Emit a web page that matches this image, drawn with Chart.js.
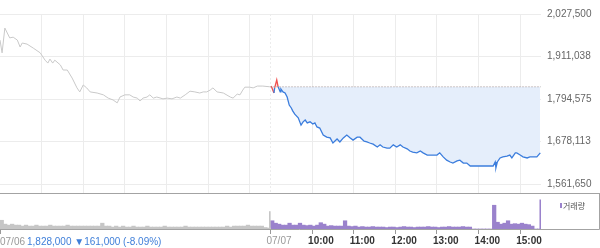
<!DOCTYPE html>
<html lang="ko">
  <head>
    <meta charset="UTF-8" />
    <script src="https://cdn.jsdelivr.net/npm/chart.js@4.4.0/dist/chart.umd.min.js"></script>
    <title>07/07 차트</title>
    <style>
      body { margin: 0; background: #fff; }
      canvas { display: block; }
    </style>
  </head>
  <body>
    <canvas id="price" width="600" height="194"></canvas>
    <canvas id="volume" width="600" height="54"></canvas>
    <script>
      // minutes since 09:00 of each session; one session = 390 min
      const SESSION = 390;
      const BASE = 1828000; // 07/06 close
      const yTicks = [1561650, 1678113, 1794575, 1911038, 2027500];
      const gridTimes = [60, 120, 180, 240, 300, 360, 390, 450, 510, 570, 630, 690, 750];
      const labelTimes = [0, 390, 450, 510, 570, 630, 690, 750];
      const labelTexts = ["", "07/07", "10:00", "11:00", "12:00", "13:00", "14:00", "15:00"];

      // 07/06 price
      const prevTimes = [0, 3, 7, 14, 19, 25, 29, 32, 39, 48, 58, 65, 69, 72, 76, 79, 87, 91, 97, 104,
        111, 115, 120, 125, 130, 140, 149, 156, 163, 169, 173, 180, 187, 192, 198, 202, 206, 212, 216, 221,
        226, 235, 241, 248, 255, 260, 267, 274, 281, 288, 293, 298, 303, 307, 313, 322, 332, 336, 342, 346,
        350, 353, 360, 365, 371, 379, 389];
      const prevPrices = [1956000, 1921000, 1989000, 1962000, 1964000, 1956000, 1937000, 1948000, 1945000, 1934000,
        1921000, 1901000, 1893000, 1904000, 1893000, 1901000, 1888000, 1874000, 1874000, 1852000,
        1825000, 1814000, 1833000, 1825000, 1814000, 1811000, 1806000, 1797000, 1792000, 1784000,
        1800000, 1806000, 1806000, 1800000, 1797000, 1789000, 1797000, 1800000, 1806000, 1797000,
        1800000, 1795000, 1797000, 1795000, 1800000, 1797000, 1806000, 1816000, 1814000, 1811000,
        1814000, 1814000, 1819000, 1825000, 1814000, 1811000, 1800000, 1797000, 1808000, 1806000,
        1819000, 1827000, 1827000, 1825000, 1830000, 1830000, 1828000];

      // 07/07 price
      const todayTimes = [1, 5, 6, 9, 11, 14, 15, 18, 21, 24, 27, 30, 32, 35, 40, 44, 47, 50, 53, 57,
        61, 64, 67, 71, 76, 81, 86, 90, 96, 100, 105, 110, 115, 119, 125, 129, 135, 139, 143, 148,
        154, 158, 162, 168, 172, 177, 182, 187, 191, 197, 201, 205, 211, 216, 220, 226, 230, 240, 244, 249,
        254, 259, 263, 269, 273, 278, 283, 288, 321, 324, 325, 327, 331, 335, 341, 345, 348, 353, 355, 360,
        364, 370, 374, 384, 389];
      const todayPrices = [1830000, 1811000, 1825000, 1847000, 1828000, 1814000, 1822000, 1814000, 1811000, 1800000,
        1778000, 1770000, 1762000, 1753000, 1743000, 1723000, 1732000, 1737000, 1729000, 1732000,
        1726000, 1729000, 1718000, 1715000, 1696000, 1690000, 1688000, 1674000, 1685000, 1677000,
        1688000, 1696000, 1688000, 1682000, 1690000, 1690000, 1679000, 1677000, 1674000, 1671000,
        1663000, 1669000, 1663000, 1660000, 1660000, 1669000, 1663000, 1669000, 1663000, 1658000,
        1652000, 1649000, 1647000, 1652000, 1647000, 1641000, 1641000, 1641000, 1647000, 1636000,
        1627000, 1622000, 1619000, 1625000, 1627000, 1619000, 1619000, 1611000, 1611000, 1622000,
        1606000, 1622000, 1633000, 1636000, 1638000, 1641000, 1633000, 1647000, 1647000, 1641000,
        1636000, 1633000, 1636000, 1636000, 1647000];

      // volume, 5-minute bins from 09:00
      const BIN = 5;
      const prevVolumes = [9000, 5000, 4000, 5000, 4000, 4000, 3000, 4000, 3000, 3000,
        4000, 3000, 3000, 3000, 4000, 3000, 3000, 3000, 3000, 4000,
        3000, 3000, 3000, 3000, 3000, 3000, 3000, 3000, 3000, 6000,
        3000, 3000, 2000, 3000, 2000, 3000, 2000, 2000, 3000, 2000,
        2000, 2000, 3000, 2000, 2000, 2000, 2000, 3000, 2000, 2000,
        2000, 2000, 2000, 3000, 2000, 2000, 2000, 2000, 2000, 2000,
        2000, 2000, 2000, 2000, 2000, 3000, 2000, 3000, 3000, 3000,
        3000, 4000, 3000, 3000, 3000, 3000, 1500, 1000];
      const prevCloseVolume = 18000;
      const todayVolumes = [8500, 6000, 5000, 4000, 4000, 6000, 4000, 4000, 6000, 4000,
        3500, 4000, 3000, 4000, 6500, 5000, 3000, 3500, 3000, 3000,
        3000, 8500, 3000, 2500, 3000, 2000, 2500, 2000, 2000, 2500,
        2000, 2000, 2000, 1500, 2000, 2000, 1500, 2000, 2500, 2000,
        2000, 1500, 2000, 2000, 2000, 2500, 2000, 2000, 1500, 2000,
        2000, 2500, 2000, 2000, 2000, 2500, 2000, 2000, 0, 0,
        0, 0, 0, 0, 24500, 7000, 5000, 6000, 8500, 5000,
        5500, 5000, 6000, 5000, 4500, 3000, 0, 0];
      const todayCloseVolume = 30000;

      const BLUE = "#3b7ddd";
      const RED = "#f0504f";
      const PURPLE = "#9a82cc";
      const FONT = "Arial, 'Liberation Sans', sans-serif";

      Chart.defaults.font.family = FONT;

      const prevPts = prevTimes.map((t, i) => ({ x: t, y: prevPrices[i] }));
      const todayPts = todayTimes.map((t, i) => ({ x: SESSION + t, y: todayPrices[i] }));
      const basePts = [{ x: SESSION, y: BASE }, { x: 2 * SESSION, y: BASE }];

      const panelLine = {
        id: "panelLine",
        afterDraw(chart) {
          const c = chart.ctx;
          c.save();
          c.strokeStyle = "#a3a3a3";
          c.lineWidth = 1;
          c.beginPath();
          c.moveTo(0, chart.chartArea.bottom + 0.5);
          c.lineTo(chart.width, chart.chartArea.bottom + 0.5);
          c.stroke();
          c.restore();
        },
      };

      new Chart(document.getElementById("price"), {
        type: "line",
        data: {
          datasets: [
            {
              data: basePts,
              borderColor: "#999",
              borderWidth: 1,
              borderDash: [1, 2],
              pointRadius: 0,
              fill: false,
            },
            {
              data: todayPts,
              borderColor: BLUE,
              borderWidth: 1.3,
              pointRadius: 0,
              fill: { target: { value: BASE }, above: "rgba(240,80,80,0.18)", below: "#e5eefb" },
              segment: {
                borderColor: (ctx) =>
                  ctx.p0.parsed.y > BASE || ctx.p1.parsed.y > BASE ? RED : undefined,
              },
            },
            {
              data: prevPts,
              borderColor: "#c9c9c9",
              borderWidth: 1,
              pointRadius: 0,
              fill: false,
            },
          ],
        },
        options: {
          responsive: false,
          animation: false,
          devicePixelRatio: 1,
          layout: { padding: { top: 14, left: 0, right: 0, bottom: 0 } },
          plugins: { legend: { display: false }, tooltip: { enabled: false } },
          scales: {
            x: {
              type: "linear",
              min: 0,
              max: 2 * SESSION,
              ticks: { display: false },
              afterBuildTicks: (s) => {
                s.ticks = gridTimes.map((v) => ({ value: v }));
              },
              afterFit: (s) => {
                s.height = 1;
                s.paddingLeft = 0;
                s.paddingRight = 0;
              },
              grid: { color: "#ececec", drawTicks: false },
              border: {
                display: false,
                dash: (c) => (c.tick && c.tick.value === SESSION ? [2, 2] : []),
              },
            },
            y: {
              position: "right",
              min: 1537000,
              max: 2027500,
              afterBuildTicks: (s) => {
                s.ticks = yTicks.map((v) => ({ value: v }));
              },
              afterFit: (s) => {
                s.width = 59;
                s.paddingTop = 0;
                s.paddingBottom = 0;
              },
              ticks: {
                padding: 6,
                color: "#666",
                font: { size: 10 },
                callback: (v) => v.toLocaleString("en-US"),
              },
              grid: { color: "#ececec", drawTicks: false },
              border: { display: false },
            },
          },
        },
        plugins: [panelLine],
      });

      const volDecor = {
        id: "volDecor",
        afterDraw(chart) {
          const c = chart.ctx;
          const a = chart.chartArea;
          c.save();
          c.strokeStyle = "#a3a3a3";
          c.lineWidth = 1;
          c.beginPath();
          c.moveTo(0, a.bottom + 0.5);
          c.lineTo(599.5, a.bottom + 0.5);
          c.lineTo(599.5, 0);
          c.stroke();

          // legend
          c.fillStyle = PURPLE;
          c.fillRect(560, 9, 2, 5);
          c.fillStyle = "#555";
          c.font = "8px 'Noto Sans CJK KR', sans-serif";
          c.textBaseline = "middle";
          c.textAlign = "left";
          c.fillText("거래량", 563, 11.5);

          // bottom-left info
          const y = a.bottom + 13;
          c.font = "10px " + FONT;
          c.fillStyle = "#999";
          c.fillText("07/06", 0, y);
          c.fillStyle = "#3f7fd9";
          c.fillText("1,828,000 ▼161,000 (-8.09%)", 27, y);
          c.restore();
        },
      };

      const bars = (times, vals, color, thick) => ({
        type: "bar",
        data: times.map((t, i) => ({ x: t, y: vals[i] })),
        backgroundColor: color,
        barThickness: thick,
        grouped: false,
      });
      const binMid = (n, offset) => Array.from({ length: n }, (_, i) => offset + i * BIN + BIN / 2);

      new Chart(document.getElementById("volume"), {
        type: "bar",
        data: {
          datasets: [
            bars(binMid(prevVolumes.length, 0), prevVolumes, "#c6c6c6", 3.6),
            bars([SESSION - 1], [prevCloseVolume], "#c6c6c6", 1),
            bars(binMid(todayVolumes.length, SESSION), todayVolumes, PURPLE, 3.6),
            bars([2 * SESSION - 1], [todayCloseVolume], PURPLE, 1),
          ],
        },
        options: {
          responsive: false,
          animation: false,
          devicePixelRatio: 1,
          layout: { padding: { top: 3, left: 0, right: 59, bottom: 0 } },
          plugins: { legend: { display: false }, tooltip: { enabled: false } },
          scales: {
            x: {
              type: "linear",
              offset: false,
              min: 0,
              max: 2 * SESSION,
              afterBuildTicks: (s) => {
                s.ticks = labelTimes.map((v) => ({ value: v }));
              },
              afterFit: (s) => {
                s.paddingLeft = 0;
                s.paddingRight = 0;
              },
              ticks: {
                autoSkip: false,
                maxRotation: 0,
                align: "start",
                labelOffset: -4,
                padding: 1,
                color: (c) => (c.tick && c.tick.value === SESSION ? "#999" : "#333"),
                font: (c) => ({ size: 10, weight: c.tick && c.tick.value === SESSION ? "normal" : "bold" }),
                callback: (v) => labelTexts[labelTimes.indexOf(v)],
              },
              grid: { offset: false, drawOnChartArea: false, drawTicks: true, tickLength: 5, tickColor: "#999" },
              border: { display: false },
            },
            y: { display: false, min: 0, max: 33000 },
          },
        },
        plugins: [volDecor],
      });
    </script>
  </body>
</html>
